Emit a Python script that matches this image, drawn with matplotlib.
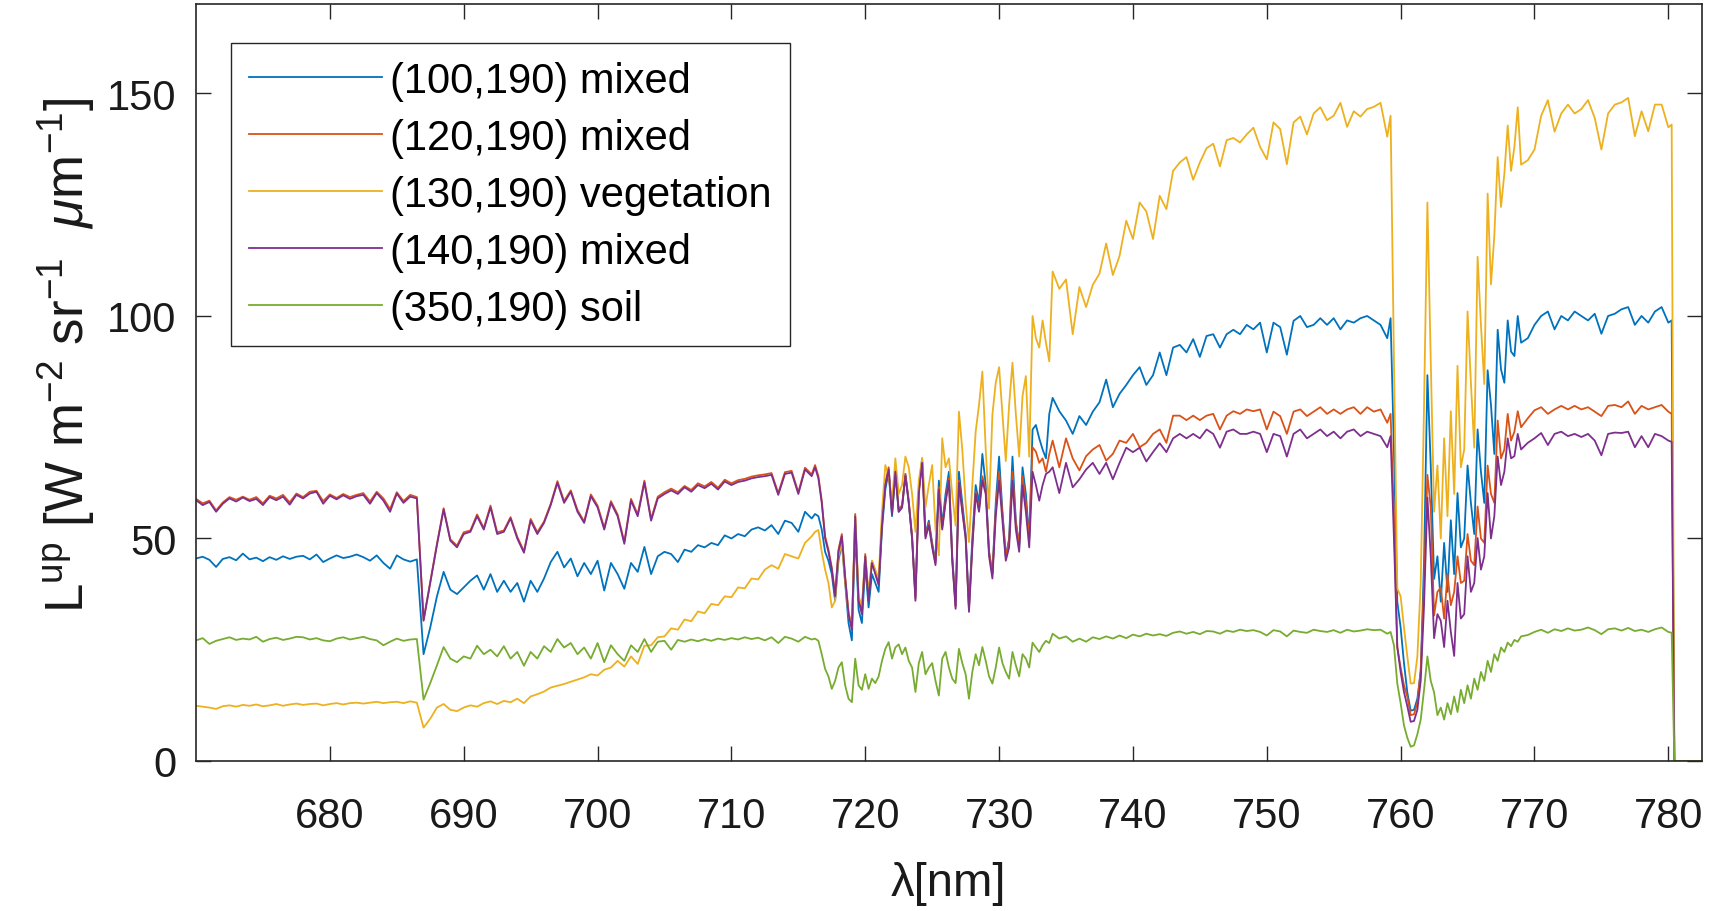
import numpy as np
import matplotlib.pyplot as plt

plt.rcParams['font.family'] = ['Liberation Sans', 'DejaVu Sans']
plt.rcParams['mathtext.fontset'] = 'custom'
plt.rcParams['mathtext.rm'] = 'Liberation Sans'
plt.rcParams['mathtext.it'] = 'Liberation Sans:italic'
plt.rcParams['mathtext.bf'] = 'Liberation Sans:bold'

# wavelength grid (nm): coarse where flat, finer in absorption bands
wl = np.concatenate([np.arange(670.0, 716.01, 0.5),
                     np.arange(716.25, 734.01, 0.25),
                     np.arange(734.5, 759.01, 0.5),
                     np.arange(759.25, 769.01, 0.25),
                     np.arange(769.5, 780.01, 0.5),
                     [780.25, 780.45, 782.5]])

labels = ['(100,190) mixed', '(120,190) mixed', '(130,190) vegetation',
          '(140,190) mixed', '(350,190) soil']
colors = ['#0072BD', '#D95319', '#EDB120', '#7E2F8E', '#77AC30']

# (100,190) mixed
blue = [45.5, 45.9, 45.2, 43.6, 45.4, 45.8, 45.1, 46.6, 45.3, 45.7,
        44.9, 45.8, 45.2, 46.0, 45.4, 45.9, 46.1, 45.3, 46.4, 44.7,
        45.5, 46.2, 45.6, 45.9, 46.4, 45.8, 45.0, 46.2, 44.5, 43.2,
        46.2, 45.3, 44.8, 45.3, 24.0, 30.0, 37.0, 42.5, 38.5, 37.5,
        39.0, 40.5, 41.7, 38.5, 42.0, 38.0, 40.5, 38.0, 40.0, 35.8,
        40.5, 38.0, 41.0, 44.7, 47.0, 43.5, 45.5, 41.5, 44.5, 42.0,
        45.0, 38.3, 44.5, 42.0, 38.7, 44.5, 42.5, 48.1, 42.0, 46.0,
        47.0, 46.5, 44.7, 47.5, 47.0, 48.5, 48.0, 49.0, 48.5, 50.7,
        50.0, 51.0, 50.5, 52.0, 52.5, 51.8, 53.0, 51.0, 54.0, 53.5,
        51.5, 56.0, 54.5,
        55.5, 55.0, 52.0, 47.0, 45.0, 42.0, 36.0, 45.0,
        49.0, 40.0, 31.0, 27.1, 52.0, 34.0, 31.0, 44.0,
        34.5, 42.0, 40.0, 38.0, 52.0, 61.0, 65.0, 55.0,
        64.5, 56.0, 57.0, 64.5, 58.0, 50.0, 37.0, 61.0,
        68.0, 51.0, 54.0, 49.0, 45.0, 63.0, 53.0, 60.0,
        65.0, 46.0, 35.0, 65.0, 58.0, 51.0, 34.5, 50.0,
        62.0, 58.0, 69.0, 62.0, 47.0, 42.0, 58.0, 68.4,
        56.0, 46.0, 50.0, 68.4, 54.0, 48.0, 66.0, 60.0,
        50.0, 74.5, 75.5, 72.5, 70.0, 68.0, 78.0, 81.6,
        78.6, 76.5, 73.5, 77.5, 75.5, 78.5, 80.6, 85.7, 79.5, 82.5,
        84.5, 86.7, 88.5, 84.5, 86.7, 91.8, 86.7, 92.9, 93.5, 91.8,
        94.8, 90.8, 95.5, 95.9, 92.9, 95.9, 96.9, 95.9, 98.0, 97.0,
        98.5, 91.8, 98.5, 97.5, 91.3, 98.9, 100.0, 97.5, 98.0, 99.5,
        98.0, 99.5, 97.0, 99.0, 98.5, 99.5, 100.0, 99.0, 98.0, 95.0,
        99.5, 70.0, 35.8, 30.0, 22.0, 15.4, 11.3, 11.5,
        14.0, 20.0, 45.0, 86.7, 66.4, 40.9, 46.0, 35.8,
        49.0, 38.0, 54.1, 42.0, 60.2, 48.0, 50.0, 66.4,
        58.0, 51.0, 74.5, 65.0, 58.0, 87.8, 80.0, 69.0,
        96.9, 88.0, 85.0, 99.0, 92.0, 91.0, 100.0, 94.0,
        95.0, 98.0, 100.0, 101.0, 97.0, 100.0, 99.0, 101.0, 100.0, 99.0,
        100.5, 96.0, 100.0, 100.5, 101.5, 102.0, 98.0, 100.0, 98.5, 101.0,
        102.0, 98.5,
        99.0, 0.0, 0.0]

# (120,190) mixed
red = [58.9, 57.9, 58.5, 56.3, 58.1, 59.3, 58.7, 59.4, 58.7, 59.3,
       57.9, 59.6, 59.0, 59.8, 58.1, 60.1, 59.3, 60.5, 60.7, 58.4,
       59.9, 59.1, 60.0, 59.3, 59.8, 60.2, 58.3, 60.5, 59.0, 56.6,
       60.4, 58.4, 59.8, 59.3, 31.7, 40.3, 48.8, 56.8, 49.8, 48.4,
       51.4, 51.8, 55.4, 52.3, 57.4, 51.4, 51.8, 54.8, 50.4, 47.1,
       54.4, 51.4, 53.8, 57.8, 62.9, 58.4, 60.8, 56.4, 53.8, 59.9,
       57.4, 52.4, 58.4, 55.4, 49.2, 58.9, 55.4, 63.0, 54.4, 59.4,
       60.4, 61.2, 60.4, 61.8, 60.9, 62.4, 61.7, 62.7, 61.4, 63.2,
       62.4, 63.1, 63.4, 63.9, 64.2, 64.4, 64.7, 60.2, 64.9, 65.2,
       60.4, 65.9, 64.4,
       66.5, 64.0, 58.5, 50.5, 47.5, 43.5, 37.5, 47.5,
       51.0, 41.5, 33.5, 30.0, 55.5, 36.5, 33.5, 46.5,
       36.5, 45.0, 42.5, 40.0, 53.5, 62.5, 66.0, 56.0,
       65.5, 56.5, 57.5, 64.5, 58.5, 50.5, 36.5, 60.5,
       67.5, 50.5, 53.5, 48.5, 44.5, 61.5, 52.5, 58.5,
       63.5, 45.5, 34.7, 63.0, 56.5, 50.5, 34.0, 48.5,
       60.5, 56.5, 64.0, 61.0, 47.0, 42.0, 56.5, 65.0,
       55.5, 46.0, 49.5, 65.0, 53.5, 48.5, 64.0, 58.0,
       50.0, 70.5, 69.5, 67.0, 68.0, 65.0, 69.0, 72.0,
       66.0, 72.5, 68.0, 65.3, 68.5, 70.0, 71.0, 67.5, 69.0, 72.0,
       71.5, 73.5, 70.5, 71.5, 73.5, 74.5, 71.5, 77.6, 77.6, 76.6,
       77.6, 76.6, 77.6, 78.0, 74.5, 77.6, 78.6, 78.0, 79.0, 78.6,
       79.0, 74.5, 78.5, 77.5, 73.5, 78.5, 79.0, 77.5, 78.5, 79.5,
       78.0, 79.0, 78.0, 79.0, 79.5, 78.0, 79.5, 78.5, 79.0, 76.0,
       78.0, 55.0, 25.6, 21.0, 17.0, 14.4, 10.3, 10.5,
       13.0, 20.5, 40.0, 64.3, 57.0, 32.7, 38.0, 39.0,
       32.0, 42.0, 35.0, 38.0, 46.0, 40.0, 40.5, 51.0,
       45.0, 44.0, 57.2, 50.0, 49.0, 66.4, 60.0, 58.0,
       76.5, 68.0, 70.0, 78.0, 72.0, 74.0, 78.6, 75.0,
       77.0, 78.8, 79.5, 78.0, 79.0, 79.8, 79.0, 79.8, 79.0, 79.5,
       78.5, 77.5, 79.8, 80.0, 79.5, 80.8, 78.0, 79.8, 79.0, 79.5,
       80.0, 78.5,
       78.0, 0.0, 0.0]

# (130,190) vegetation
yellow = [12.4, 12.2, 12.0, 11.7, 12.3, 12.5, 12.2, 12.6, 12.4, 12.7,
          12.3, 12.5, 12.8, 12.4, 12.7, 12.9, 12.6, 12.8, 12.9, 12.5,
          12.8, 13.0, 12.7, 13.0, 13.1, 12.9, 13.1, 13.3, 13.0, 13.2,
          13.3, 13.0, 13.4, 13.1, 7.5, 9.5, 12.0, 12.8, 11.5, 11.2,
          12.0, 12.5, 12.2, 13.0, 13.4, 12.8, 13.5, 13.2, 14.0, 13.0,
          14.5, 15.0, 15.6, 16.5, 16.9, 17.3, 17.8, 18.3, 18.8, 19.5,
          19.2, 20.5, 21.0, 22.5, 21.2, 23.5, 21.8, 25.9, 26.0, 27.8,
          28.0, 29.8, 29.5, 31.8, 31.4, 33.6, 33.2, 35.3, 35.0, 37.0,
          36.8, 39.0, 38.8, 41.0, 40.8, 43.0, 44.0, 43.2, 46.5, 46.0,
          45.5, 49.0, 50.5,
          51.5, 51.9, 47.0, 43.0, 40.0, 34.5, 36.0, 46.0,
          49.0, 40.0, 33.0, 30.0, 55.0, 37.0, 35.0, 46.0,
          38.0, 45.0, 43.0, 41.0, 56.0, 66.5, 64.0, 58.0,
          68.0, 60.0, 62.0, 68.4, 66.0, 60.0, 51.5, 63.0,
          68.0, 57.0, 62.0, 66.5, 52.0, 46.2, 72.5, 66.0,
          68.0, 60.0, 52.9, 78.5, 70.0, 58.0, 49.2, 62.0,
          74.0, 80.0, 87.5, 70.0, 56.7, 77.8, 85.0, 88.5,
          78.0, 67.4, 80.0, 89.5, 78.0, 68.4, 82.0, 86.5,
          68.4, 100.0, 95.0, 92.9, 99.0, 94.0, 89.8, 110.0,
          106.1, 108.2, 95.9, 106.5, 102.0, 107.0, 109.5, 116.3, 109.2, 113.5,
          121.4, 117.3, 125.5, 123.5, 117.3, 127.0, 124.0, 132.6, 134.5, 135.7,
          130.6, 134.5, 137.7, 138.7, 133.6, 139.5, 140.0, 139.0, 140.8, 142.3,
          138.0, 135.2, 143.5, 142.0, 134.1, 143.5, 144.8, 140.8, 145.5, 146.9,
          144.0, 145.0, 147.9, 142.5, 146.0, 144.8, 146.5, 147.0, 147.9, 140.3,
          145.0, 90.0, 38.8, 37.0, 30.0, 23.5, 17.4, 17.5,
          23.5, 40.0, 80.0, 125.5, 90.0, 56.0, 66.4, 50.0,
          72.5, 55.0, 78.6, 60.0, 88.8, 66.0, 70.0, 101.0,
          85.0, 70.4, 113.3, 98.0, 84.7, 127.5, 107.1, 118.0,
          135.7, 124.5, 132.0, 142.8, 132.6, 138.0, 146.9, 134.0,
          135.0, 137.4, 145.0, 148.5, 141.4, 145.5, 147.5, 145.5, 146.5, 148.5,
          144.5, 137.4, 145.5, 147.5, 148.0, 149.0, 140.4, 146.0, 141.5, 147.5,
          147.5, 142.4,
          143.0, 0.0, 0.0]

# (140,190) mixed
purple = [58.6, 57.5, 58.2, 56.0, 57.8, 59.0, 58.3, 59.2, 58.4, 58.9,
          57.5, 59.3, 58.6, 59.4, 57.6, 59.8, 59.0, 60.1, 60.5, 57.8,
          59.6, 58.8, 59.7, 58.9, 59.5, 59.8, 57.8, 60.2, 58.5, 56.0,
          60.1, 58.0, 59.4, 59.0, 31.5, 40.0, 48.5, 56.5, 49.5, 48.0,
          51.0, 51.5, 55.0, 52.0, 57.0, 51.0, 51.5, 54.5, 50.0, 46.8,
          54.0, 51.0, 53.5, 57.5, 62.5, 58.0, 60.5, 56.0, 53.5, 59.5,
          57.0, 52.0, 58.0, 55.0, 48.8, 58.5, 55.0, 62.6, 54.0, 59.0,
          60.0, 60.8, 60.0, 61.5, 60.5, 62.0, 61.3, 62.3, 61.0, 62.8,
          62.0, 62.7, 63.0, 63.5, 63.8, 64.0, 64.3, 59.8, 64.5, 64.8,
          60.0, 65.5, 64.0,
          66.0, 63.5, 58.0, 50.0, 47.0, 43.0, 37.0, 47.0,
          50.5, 41.0, 33.0, 29.5, 55.0, 36.0, 33.0, 46.0,
          36.0, 44.5, 42.0, 39.5, 53.0, 62.0, 65.5, 55.5,
          65.0, 56.0, 57.0, 64.0, 58.0, 50.0, 36.0, 60.0,
          67.0, 50.0, 53.0, 48.0, 44.0, 61.0, 52.0, 58.0,
          63.0, 45.0, 34.2, 62.5, 56.0, 50.0, 33.5, 48.0,
          60.0, 56.0, 63.0, 60.0, 46.0, 41.0, 55.0, 63.0,
          54.0, 45.0, 48.0, 63.0, 52.0, 47.0, 62.0, 56.0,
          48.0, 65.0, 62.0, 58.5, 62.0, 64.5, 65.0, 66.0,
          60.2, 67.0, 61.5, 63.3, 65.5, 67.0, 64.5, 67.0, 63.3, 67.0,
          70.4, 69.4, 70.4, 67.3, 69.4, 71.4, 69.4, 72.5, 73.5, 72.5,
          73.5, 72.5, 74.5, 73.5, 70.4, 74.0, 74.5, 73.5, 73.5, 74.0,
          73.5, 69.4, 73.5, 73.0, 68.4, 73.5, 74.5, 72.5, 73.5, 74.5,
          73.0, 74.0, 72.5, 74.0, 74.5, 73.0, 74.0, 73.5, 73.0, 70.5,
          73.0, 50.0, 25.6, 20.0, 15.5, 12.3, 8.8, 9.0,
          11.5, 18.0, 35.0, 59.2, 46.0, 27.6, 33.0, 31.5,
          25.6, 36.0, 29.0, 23.6, 40.0, 32.0, 33.0, 46.0,
          38.0, 40.0, 50.1, 43.0, 46.0, 60.2, 50.0, 55.0,
          68.4, 62.0, 65.0, 72.5, 68.0, 68.5, 73.5, 70.0,
          71.5, 72.5, 73.7, 71.0, 73.5, 74.0, 73.0, 73.5, 72.8, 73.5,
          72.0, 68.7, 73.5, 73.8, 73.7, 74.0, 70.5, 73.0, 70.5, 73.5,
          73.0, 72.0,
          71.7, 0.0, 0.0]

# (350,190) soil
green = [27.1, 27.6, 26.3, 27.0, 27.4, 27.8, 27.2, 27.5, 27.3, 27.9,
         26.8, 27.4, 27.7, 27.2, 27.5, 27.9, 27.8, 27.3, 27.6, 27.1,
         26.9, 27.5, 27.8, 27.3, 27.6, 27.9, 27.4, 27.1, 26.0, 26.8,
         27.5, 27.0, 27.3, 27.4, 13.8, 17.5, 21.5, 25.6, 23.0, 22.2,
         23.5, 23.0, 25.9, 24.0, 25.0, 23.5, 25.8, 23.0, 24.5, 21.4,
         24.5, 23.0, 25.8, 24.5, 27.4, 25.5, 26.5, 24.0, 25.5, 23.0,
         26.5, 22.2, 26.0, 24.0, 22.5, 26.0, 24.5, 27.4, 24.5, 26.8,
         27.0, 25.0, 27.2, 26.8, 27.3, 26.9, 27.4, 27.0, 27.5, 27.2,
         27.6, 27.3, 27.8, 27.4, 27.7, 27.1, 27.8, 26.5, 27.9, 27.5,
         26.8, 27.9, 27.3,
         27.5, 27.0, 24.0, 20.7, 19.0, 16.2, 18.0, 21.0,
         22.2, 17.0, 14.0, 13.2, 23.0, 17.0, 16.0, 19.5,
         16.2, 18.5, 17.5, 19.0, 22.5, 25.2, 26.7, 23.0,
         25.5, 26.2, 24.0, 25.5, 22.5, 21.0, 15.5, 22.0,
         24.5, 19.5, 21.0, 22.0, 18.0, 14.7, 23.0, 24.5,
         21.0, 18.5, 17.5, 25.2, 22.0, 19.5, 14.0, 20.0,
         24.0, 21.5, 25.6, 22.5, 19.0, 17.4, 21.0, 25.5,
         22.0, 20.0, 18.5, 24.5, 21.5, 19.0, 24.0, 23.0,
         21.0, 26.6, 25.5, 24.5, 26.0, 27.0, 26.5, 28.6,
         27.5, 28.0, 26.8, 27.5, 26.8, 27.8, 27.4, 28.0, 27.5, 28.2,
         27.6, 28.4, 28.0, 28.6, 28.2, 28.5, 28.1, 28.8, 29.1, 28.6,
         29.0, 28.5, 29.2, 29.1, 28.6, 29.3, 29.0, 29.5, 29.2, 29.4,
         29.0, 28.2, 29.4, 29.1, 28.0, 29.3, 29.0, 28.8, 29.5, 29.2,
         29.0, 29.4, 28.8, 29.5, 29.1, 29.3, 29.6, 29.4, 29.5, 28.6,
         29.0, 26.0, 17.4, 13.0, 8.0, 5.2, 3.2, 3.5,
         6.0, 9.3, 16.0, 23.5, 18.0, 15.4, 10.3, 12.0,
         9.3, 13.0, 10.5, 14.5, 11.0, 16.0, 13.0, 17.0,
         14.0, 18.5, 16.0, 20.0, 18.0, 22.5, 20.0, 24.0,
         22.5, 25.5, 24.5, 26.6, 25.8, 27.2, 26.8, 28.0,
         28.3, 29.0, 29.5, 28.8, 29.6, 29.2, 29.8, 29.3, 29.5, 30.0,
         29.4, 28.5, 29.6, 29.8, 29.3, 29.9, 29.2, 29.5, 29.0, 29.6,
         30.0, 29.0,
         28.8, 0.0, 0.0]

series = [blue, red, yellow, purple, green]
for s in series:
    assert len(s) == len(wl), (len(s), len(wl))

fig = plt.figure(figsize=(17.27, 9.12), dpi=100)
ax = fig.add_axes([0.1135, 0.1645, 0.8719, 0.8295])

for s, c, lab in zip(series, colors, labels):
    ax.plot(wl, s, color=c, lw=1.3, label=lab)

ax.set_xlim(670, 782.5)
ax.set_ylim(0, 170)
ax.set_xticks(np.arange(680, 781, 10))
ax.set_yticks([0, 50, 100, 150])

for sp in ax.spines.values():
    sp.set_color('#262626')
    sp.set_linewidth(1.2)
ax.tick_params(direction='in', top=True, right=True, length=11, width=1.0,
               color='#262626', labelsize=30, labelcolor='#1a1a1a')
ax.tick_params(axis='x', pad=25)
ax.tick_params(axis='y', pad=14)

ax.set_xlabel('λ[nm]', fontsize=34, color='#1a1a1a')
ax.xaxis.set_label_coords(0.5, -0.132)
ax.set_ylabel(r'L$^{\rm up}$ [W m$^{-2}$ sr$^{-1}$  $\mu$m$^{-1}$]',
              fontsize=38, color='#1a1a1a')
ax.yaxis.set_label_coords(-0.066, 0.538)

leg = ax.legend(loc='upper left', bbox_to_anchor=(0.0234, 0.949),
                borderaxespad=0, fontsize=30, handlelength=3.2,
                handletextpad=0.2, labelspacing=0.41, borderpad=0.42,
                fancybox=False, framealpha=1, edgecolor='#262626')
leg.get_frame().set_linewidth(1.0)

plt.savefig('out.png', dpi=100)
